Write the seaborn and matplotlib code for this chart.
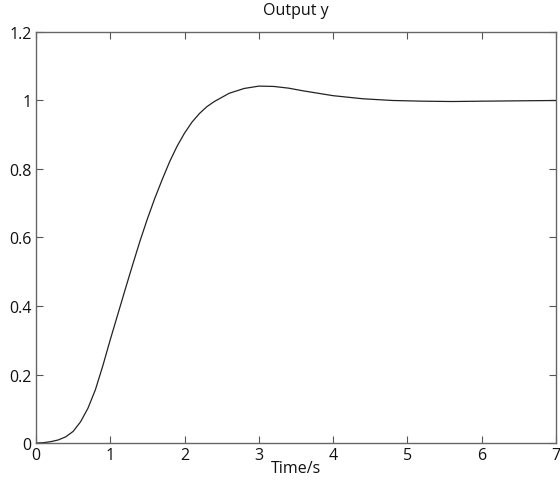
import matplotlib
matplotlib.use("Agg")
import matplotlib.pyplot as plt
import seaborn as sns
import pandas as pd

t = [0, 0.1, 0.2, 0.3, 0.4, 0.5, 0.6, 0.7, 0.8, 0.9, 1.0, 1.1, 1.2, 1.3, 1.4,
     1.5, 1.6, 1.7, 1.8, 1.9, 2.0, 2.1, 2.2, 2.3, 2.4, 2.6, 2.8, 3.0, 3.2, 3.4,
     3.6, 3.8, 4.0, 4.4, 4.8, 5.2, 5.6, 6.0, 6.5, 7.0]
y = [0, 0.001, 0.004, 0.009, 0.018, 0.034, 0.062, 0.102, 0.156, 0.226, 0.302,
     0.375, 0.448, 0.52, 0.59, 0.655, 0.715, 0.77, 0.822, 0.867, 0.905, 0.937,
     0.962, 0.982, 0.997, 1.021, 1.035, 1.042, 1.041, 1.036, 1.028, 1.021,
     1.014, 1.005, 1.0, 0.998, 0.997, 0.998, 0.999, 1.0]
xticks = [0, 1, 2, 3, 4, 5, 6, 7]
yticks = [0, 0.2, 0.4, 0.6, 0.8, 1.0, 1.2]
yticklabels = ["0", "0.2", "0.4", "0.6", "0.8", "1", "1.2"]

sns.set_theme(style="white")
plt.rcParams['font.family'] = ['Open Sans', 'DejaVu Sans']

df = pd.DataFrame({"t": t, "y": y})
fig = plt.figure(figsize=(5.6, 4.85), dpi=100)
ax = fig.add_axes([0.0643, 0.0845, 0.9287, 0.8475])
sns.lineplot(data=df, x="t", y="y", ax=ax, color="#222222", linewidth=0.9)
ax.set_xlim(0, 7)
ax.set_ylim(0, 1.2)
ax.set_xticks(xticks)
ax.set_xticklabels([str(v) for v in xticks])
ax.set_yticks(yticks)
ax.set_yticklabels(yticklabels)
ax.tick_params(direction="in", length=5, width=0.8, color="#555555",
               labelsize=11.5, top=True, right=True, bottom=True, left=True,
               pad=3, labelcolor="#111111")
for s in ax.spines.values():
    s.set_color("#666666")
    s.set_linewidth(1.0)
ax.set_xlabel("Time/s", fontsize=11.5, labelpad=-2, color="#111111")
ax.set_ylabel("")
ax.set_title("Output y", fontsize=11.5, pad=13, color="#111111")
fig.savefig("out.png", dpi=100)
